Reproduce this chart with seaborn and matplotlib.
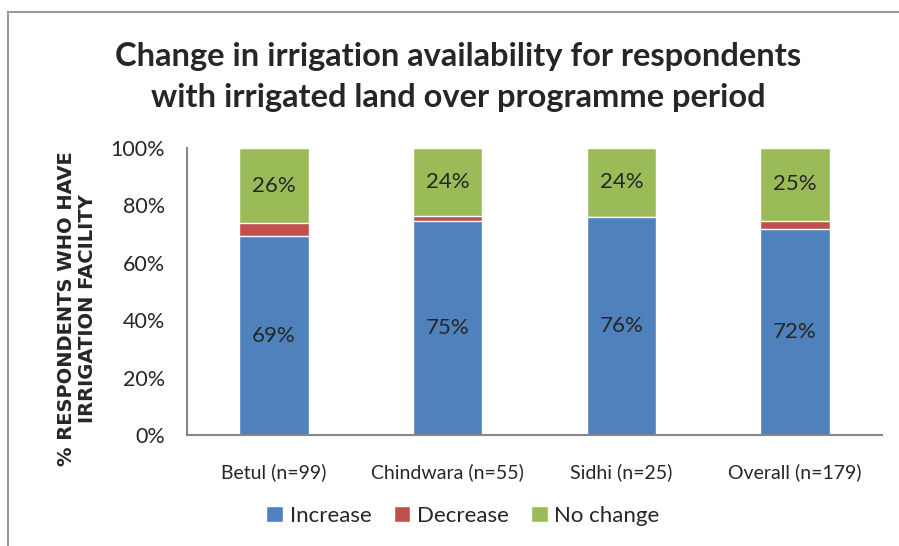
import numpy as np
import pandas as pd
import matplotlib.pyplot as plt
import seaborn as sns
from matplotlib.patches import Rectangle

sns.set_style('white')
plt.rcParams['font.family'] = ['Lato', 'DejaVu Sans']

# data (percent of respondents)
districts = ['Betul (n=99)', 'Chindwara (n=55)', 'Sidhi (n=25)', 'Overall (n=179)']
increase = [69.2, 74.6, 76.0, 71.7]
decrease = [4.5, 1.8, 0.0, 3.0]
no_change = [26.3, 23.6, 24.0, 25.3]

df = pd.DataFrame({'district': districts, 'Increase': increase,
                   'Decrease': decrease, 'No change': no_change})
df['cum_dec'] = df['Increase'] + df['Decrease']
df['cum_all'] = df['cum_dec'] + df['No change']

c_inc, c_dec, c_nc = '#4f81bd', '#c0504d', '#9bbb59'

fig = plt.figure(figsize=(8.99, 5.46), dpi=100)
ax = fig.add_axes([187 / 899, 1 - 435 / 546, (882 - 187) / 899, (435 - 148) / 546])

# stacked bars by overlaying cumulative totals
sns.barplot(data=df, x='district', y='cum_all', color=c_nc, width=0.4,
            saturation=1, ax=ax, label='No change')
sns.barplot(data=df, x='district', y='cum_dec', color=c_dec, width=0.4,
            saturation=1, ax=ax, label='Decrease')
sns.barplot(data=df, x='district', y='Increase', color=c_inc, width=0.4,
            saturation=1, ax=ax, label='Increase')

# segment labels
for i, row in df.iterrows():
    ax.text(i, row['Increase'] / 2, f"{row['Increase']:.0f}%", ha='center',
            va='center', fontsize=16)
    ax.text(i, row['cum_dec'] + row['No change'] / 2, f"{row['No change']:.0f}%",
            ha='center', va='center', fontsize=16)

ax.set_xlim(-0.5, 3.5)
ax.set_ylim(0, 100)
ax.set_yticks(range(0, 101, 20))
ax.set_yticklabels([f'{v}%' for v in range(0, 101, 20)], fontsize=15.5)
ax.set_xticks([0, 1, 2, 3])
ax.set_xticklabels(districts, fontsize=14)
ax.set_xticks([-0.5, 0.5, 1.5, 2.5, 3.5], minor=True)
ax.tick_params(axis='x', which='major', length=0, pad=20)
ax.tick_params(axis='x', which='minor', length=6, color='#868686', width=1.5)
ax.tick_params(axis='y', length=6, color='#868686', width=1.5, pad=10)
ax.set_xlabel('')
ax.set_ylabel('% RESPONDENTS WHO HAVE\nIRRIGATION FACILITY', fontsize=14,
              fontweight='bold', family='DejaVu Sans', linespacing=1.1)
ax.yaxis.set_label_coords(-0.13, 0.44)

for s in ['top', 'right']:
    ax.spines[s].set_visible(False)
for s in ['left', 'bottom']:
    ax.spines[s].set_color('#868686')
    ax.spines[s].set_linewidth(1.5)

fig.suptitle('Change in irrigation availability for respondents\nwith irrigated land over programme period',
             x=458 / 899, y=1 - 42 / 546, fontsize=23.5, fontweight='bold', va='top',
             linespacing=1.5)

handles, labels = ax.get_legend_handles_labels()
order = [labels.index('Increase'), labels.index('Decrease'), labels.index('No change')]
ax.legend([handles[k] for k in order], [labels[k] for k in order],
          loc='center', bbox_to_anchor=(463 / 899, 1 - 516 / 546),
          bbox_transform=fig.transFigure, ncol=3, frameon=False, fontsize=16,
          handlelength=0.75, handleheight=0.75, handletextpad=0.3, columnspacing=1.0)

# chart border
fig.patches.append(Rectangle((8 / 899, -0.01), 1.0, 1 - 12 / 546 + 0.01,
                             transform=fig.transFigure, fill=False,
                             edgecolor='#9a9a9a', linewidth=1.5))

fig.savefig('out.png', dpi=100)
